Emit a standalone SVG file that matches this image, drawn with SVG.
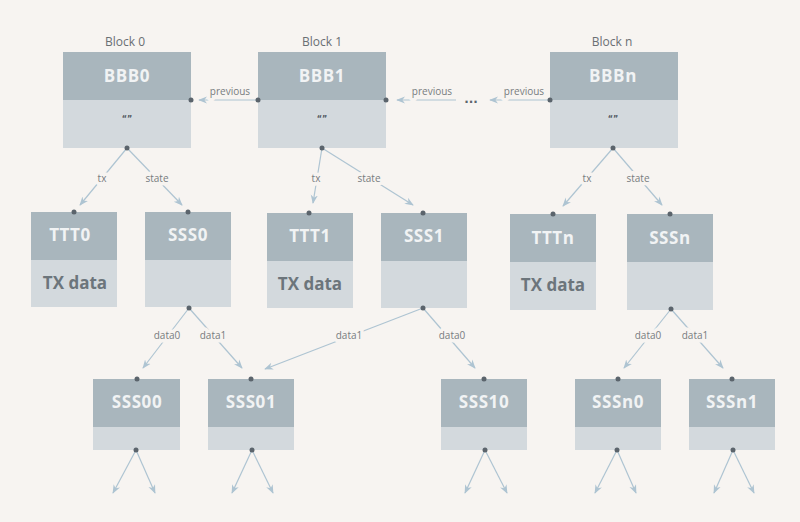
<svg xmlns="http://www.w3.org/2000/svg" width="800" height="522" viewBox="0 0 800 522">
<style>
.bg{fill:#f7f4f1}
.hd{fill:#a9b6bd}
.bd{fill:#d3d9dd}
.ttl{font-family:"Open Sans","Liberation Sans",sans-serif;font-weight:700;font-size:17px;letter-spacing:0.6px;fill:#f1f3f4;text-anchor:middle}
.txd{font-family:"Open Sans","Liberation Sans",sans-serif;font-weight:700;font-size:17px;fill:#6c757b;text-anchor:middle}
.blk{font-family:"Open Sans","Liberation Sans",sans-serif;font-size:12px;fill:#6a6f73;text-anchor:middle}
.lbl{font-family:"Open Sans","Liberation Sans",sans-serif;font-size:10px;fill:#777c80;text-anchor:middle;paint-order:stroke;stroke:#f7f4f1;stroke-width:7px;stroke-linejoin:round}
.q{font-family:"DejaVu Sans",sans-serif;font-weight:700;font-size:8px;fill:#4f565c;text-anchor:middle}
.ell{font-family:"DejaVu Sans",sans-serif;font-weight:700;font-size:12px;fill:#5b646c;text-anchor:middle}
.ln{stroke:#aec4d2;stroke-width:1.2;fill:none;marker-end:url(#ah)}
.dot{fill:#5b646c}
</style>
<defs>
<marker id="ah" viewBox="0 0 10 10" refX="9" refY="5" markerWidth="9" markerHeight="9" markerUnits="userSpaceOnUse" orient="auto">
<path d="M0,1 L10,5 L0,9 L3,5 Z" fill="#aec4d2"/>
</marker>
</defs>
<rect class="bg" x="0" y="0" width="800" height="522"/>

<g id="connectors">
<line class="ln" x1="258" y1="100" x2="199" y2="100"/>
<line class="ln" x1="456" y1="100" x2="397" y2="100"/>
<line class="ln" x1="550" y1="100" x2="490" y2="100"/>
<text class="ell" x="471" y="103">...</text>
<text class="lbl" x="230" y="95">previous</text>
<text class="lbl" x="432" y="95">previous</text>
<text class="lbl" x="524" y="95">previous</text>

<line class="ln" x1="127" y1="148" x2="80" y2="205"/>
<line class="ln" x1="127" y1="148" x2="182" y2="205"/>
<line class="ln" x1="322" y1="148" x2="313" y2="203"/>
<line class="ln" x1="322" y1="148" x2="413" y2="205"/>
<line class="ln" x1="613" y1="148" x2="563" y2="206"/>
<line class="ln" x1="613" y1="148" x2="662" y2="205"/>
<text class="lbl" x="102" y="181.5">tx</text>
<text class="lbl" x="157" y="181.5">state</text>
<text class="lbl" x="316" y="181.5">tx</text>
<text class="lbl" x="369" y="181.5">state</text>
<text class="lbl" x="587" y="181.5">tx</text>
<text class="lbl" x="638" y="181.5">state</text>

<line class="ln" x1="189" y1="308" x2="143" y2="368"/>
<line class="ln" x1="189" y1="308" x2="242" y2="368"/>
<line class="ln" x1="423" y1="308" x2="265" y2="369"/>
<line class="ln" x1="423" y1="308" x2="475" y2="368"/>
<line class="ln" x1="671" y1="309" x2="624" y2="368"/>
<line class="ln" x1="671" y1="309" x2="723" y2="368"/>
<text class="lbl" x="167" y="338.5">data0</text>
<text class="lbl" x="213" y="338.5">data1</text>
<text class="lbl" x="349" y="338.5">data1</text>
<text class="lbl" x="452" y="338.5">data0</text>
<text class="lbl" x="648" y="338.5">data0</text>
<text class="lbl" x="695" y="338.5">data1</text>

<line class="ln" x1="136" y1="450" x2="113" y2="493"/>
<line class="ln" x1="136" y1="450" x2="155" y2="493"/>
<line class="ln" x1="252" y1="450" x2="232" y2="493"/>
<line class="ln" x1="252" y1="450" x2="273" y2="493"/>
<line class="ln" x1="485" y1="450" x2="465" y2="493"/>
<line class="ln" x1="485" y1="450" x2="507" y2="493"/>
<line class="ln" x1="617" y1="450" x2="595" y2="493"/>
<line class="ln" x1="617" y1="450" x2="636" y2="493"/>
<line class="ln" x1="733" y1="450" x2="714" y2="493"/>
<line class="ln" x1="733" y1="450" x2="754" y2="493"/>
</g>

<g id="block0">
<text class="blk" x="125" y="46">Block 0</text>
<rect class="hd" x="63" y="52" width="128" height="48"/>
<rect class="bd" x="63" y="100" width="128" height="48"/>
<text class="ttl" x="127" y="82">BBB0</text>
<text class="q" x="127" y="122">“”</text>
<circle class="dot" cx="191" cy="100" r="2.5"/>
<circle class="dot" cx="127" cy="148" r="2.5"/>
</g>
<g id="block1">
<text class="blk" x="322" y="46">Block 1</text>
<rect class="hd" x="258" y="52" width="128" height="48"/>
<rect class="bd" x="258" y="100" width="128" height="48"/>
<text class="ttl" x="322" y="82">BBB1</text>
<text class="q" x="322" y="122">“”</text>
<circle class="dot" cx="258" cy="100" r="2.5"/>
<circle class="dot" cx="386" cy="100" r="2.5"/>
<circle class="dot" cx="322" cy="148" r="2.5"/>
</g>
<g id="blockn">
<text class="blk" x="612" y="46">Block n</text>
<rect class="hd" x="550" y="52" width="128" height="48"/>
<rect class="bd" x="550" y="100" width="128" height="48"/>
<text class="ttl" x="613" y="82">BBBn</text>
<text class="q" x="613" y="122">“”</text>
<circle class="dot" cx="550" cy="100" r="2.5"/>
<circle class="dot" cx="613" cy="148" r="2.5"/>
</g>

<g id="TTT0">
<rect class="hd" x="31" y="212" width="86" height="48"/>
<rect class="bd" x="31" y="260" width="86" height="47"/>
<text class="ttl" x="70" y="241">TTT0</text>
<text class="txd" x="75" y="289">TX data</text>
<circle class="dot" cx="74" cy="212" r="2.5"/>
</g>
<g id="SSS0">
<rect class="hd" x="145" y="212" width="86" height="48"/>
<rect class="bd" x="145" y="260" width="86" height="47"/>
<text class="ttl" x="188" y="241">SSS0</text>
<circle class="dot" cx="188" cy="212" r="2.5"/>
<circle class="dot" cx="189" cy="308" r="2.5"/>
</g>
<g id="TTT1">
<rect class="hd" x="267" y="213" width="86" height="48"/>
<rect class="bd" x="267" y="261" width="86" height="47"/>
<text class="ttl" x="310" y="242">TTT1</text>
<text class="txd" x="310" y="290">TX data</text>
<circle class="dot" cx="309" cy="213" r="2.5"/>
</g>
<g id="SSS1">
<rect class="hd" x="381" y="213" width="86" height="48"/>
<rect class="bd" x="381" y="261" width="86" height="47"/>
<text class="ttl" x="424" y="242">SSS1</text>
<circle class="dot" cx="423" cy="213" r="2.5"/>
<circle class="dot" cx="423" cy="308" r="2.5"/>
</g>
<g id="TTTn">
<rect class="hd" x="510" y="214" width="86" height="48"/>
<rect class="bd" x="510" y="262" width="86" height="48"/>
<text class="ttl" x="553" y="244">TTTn</text>
<text class="txd" x="553" y="291">TX data</text>
<circle class="dot" cx="553" cy="214" r="2.5"/>
</g>
<g id="SSSn">
<rect class="hd" x="627" y="214" width="86" height="48"/>
<rect class="bd" x="627" y="262" width="86" height="48"/>
<text class="ttl" x="670" y="244">SSSn</text>
<circle class="dot" cx="670" cy="214" r="2.5"/>
<circle class="dot" cx="671" cy="309" r="2.5"/>
</g>

<g id="SSS00">
<rect class="hd" x="93" y="379" width="87" height="48"/>
<rect class="bd" x="93" y="427" width="87" height="23"/>
<text class="ttl" x="137" y="408">SSS00</text>
<circle class="dot" cx="137" cy="379" r="2.5"/>
<circle class="dot" cx="136" cy="450" r="2.5"/>
</g>
<g id="SSS01">
<rect class="hd" x="208" y="379" width="86" height="48"/>
<rect class="bd" x="208" y="427" width="86" height="23"/>
<text class="ttl" x="251" y="408">SSS01</text>
<circle class="dot" cx="251" cy="379" r="2.5"/>
<circle class="dot" cx="252" cy="450" r="2.5"/>
</g>
<g id="SSS10">
<rect class="hd" x="441" y="379" width="86" height="48"/>
<rect class="bd" x="441" y="427" width="86" height="23"/>
<text class="ttl" x="484" y="408">SSS10</text>
<circle class="dot" cx="484" cy="379" r="2.5"/>
<circle class="dot" cx="485" cy="450" r="2.5"/>
</g>
<g id="SSSn0">
<rect class="hd" x="575" y="379" width="86" height="48"/>
<rect class="bd" x="575" y="427" width="86" height="23"/>
<text class="ttl" x="618" y="408">SSSn0</text>
<circle class="dot" cx="618" cy="379" r="2.5"/>
<circle class="dot" cx="617" cy="450" r="2.5"/>
</g>
<g id="SSSn1">
<rect class="hd" x="689" y="379" width="86" height="48"/>
<rect class="bd" x="689" y="427" width="86" height="23"/>
<text class="ttl" x="732" y="408">SSSn1</text>
<circle class="dot" cx="732" cy="379" r="2.5"/>
<circle class="dot" cx="733" cy="450" r="2.5"/>
</g>
</svg>
